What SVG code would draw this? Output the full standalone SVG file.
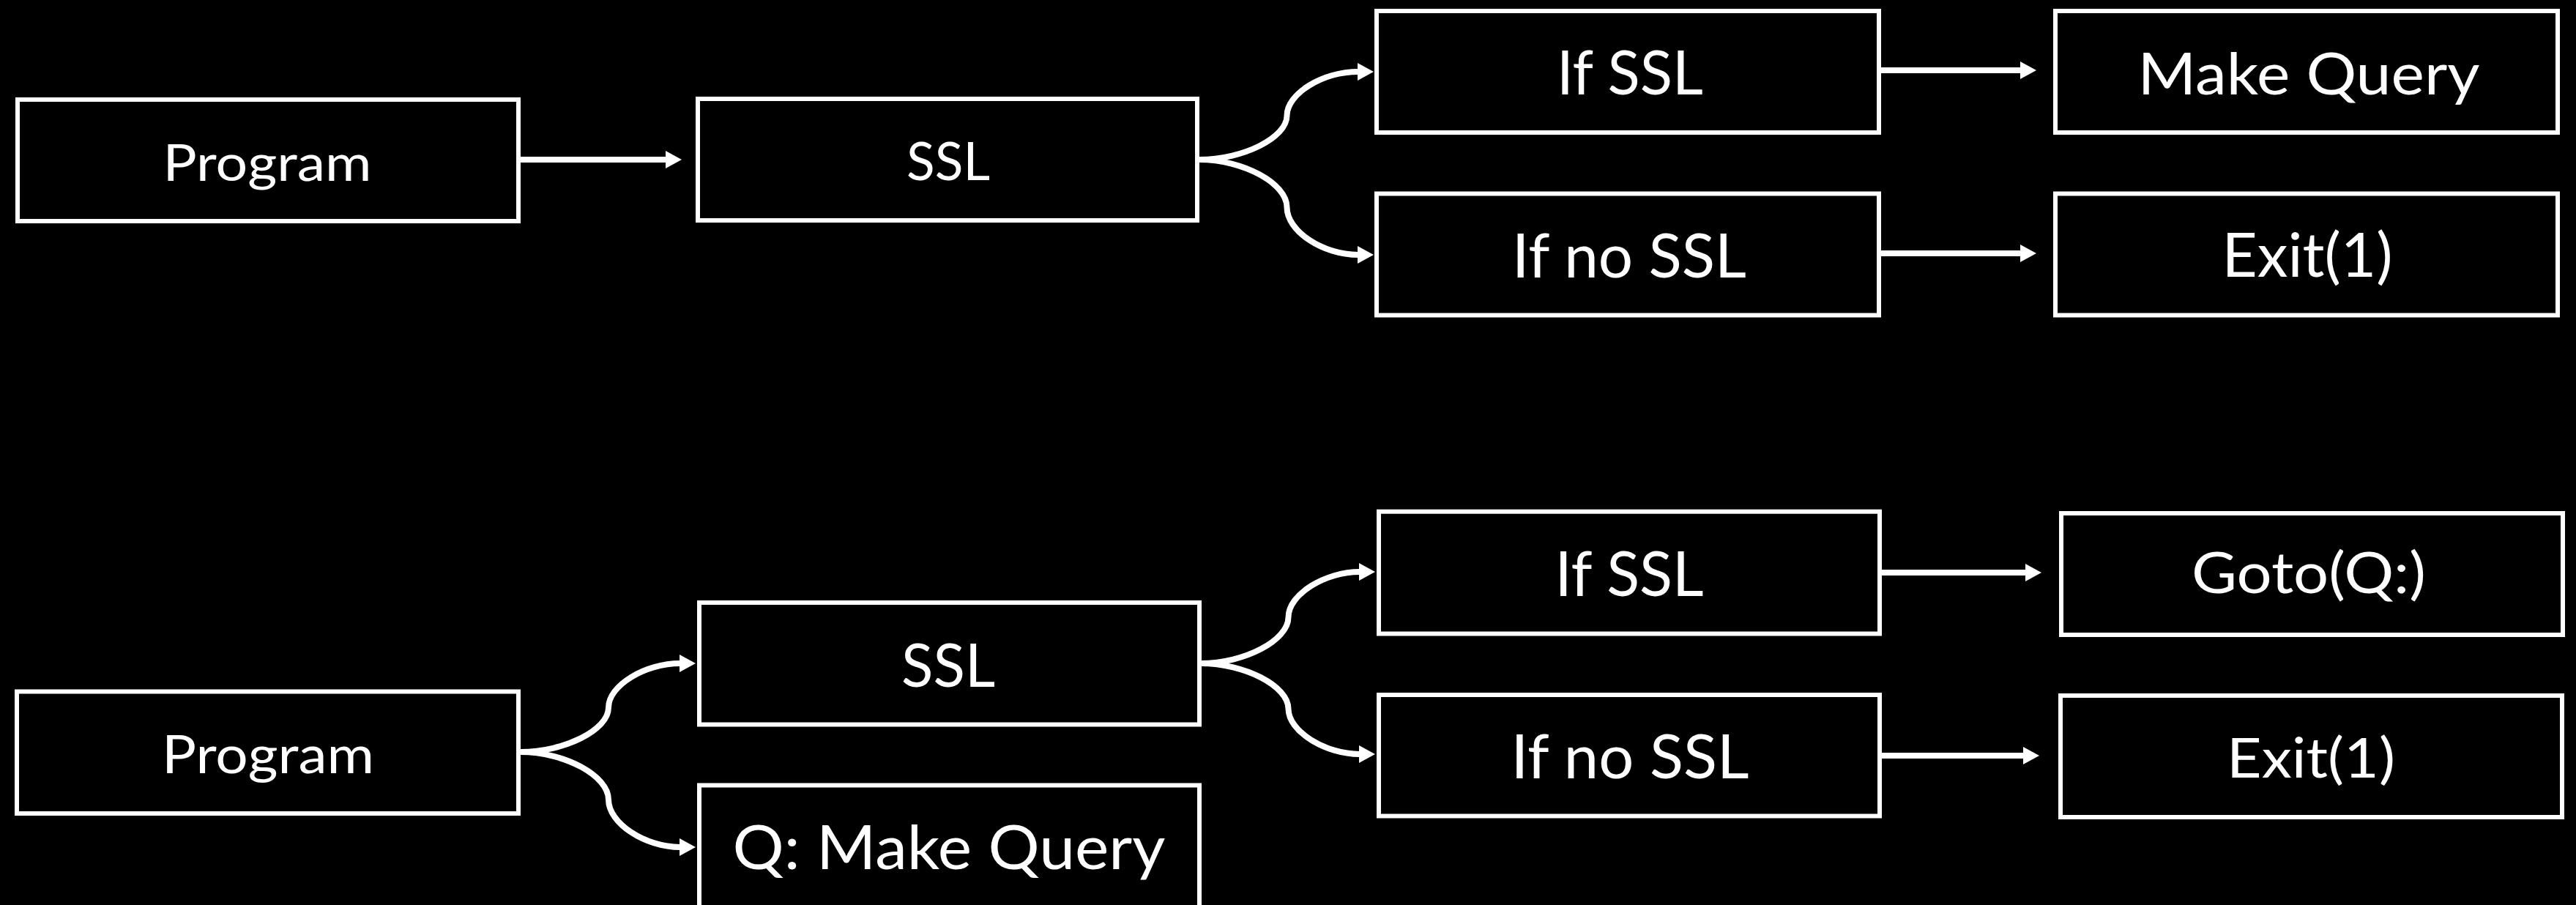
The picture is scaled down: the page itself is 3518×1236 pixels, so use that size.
<svg xmlns="http://www.w3.org/2000/svg" width="3518" height="1236" viewBox="0 0 3518 1236">
<style>
.box{fill:#000;stroke:#fff;stroke-width:6}
.lbl{fill:#fff;font-family:Lato,"Open Sans","Liberation Sans",sans-serif;text-anchor:middle}
.con{fill:none;stroke:#fff;stroke-width:8;marker-end:url(#ah)}
</style>
<defs>
<marker id="ah" viewBox="0 0 22 24" markerWidth="22" markerHeight="24" markerUnits="userSpaceOnUse" refX="1" refY="12" orient="auto">
<path d="M0,0 L22,12 L0,24 Z" fill="#fff"/>
</marker>
</defs>
<rect width="3518" height="1236" fill="#000"/>
<g id="connectors">
<path class="con" d="M711,218 H910"/>
<path class="con" d="M1638,218 C1697.75,218 1757.5,188 1757.5,158 C1757.5,128 1806,98 1855,98"/>
<path class="con" d="M1638,218 C1697.75,218 1757.5,250.5 1757.5,283 C1757.5,315.5 1806,348 1855,348"/>
<path class="con" d="M2566,96 H2760"/>
<path class="con" d="M2566,346 H2760"/>
<path class="con" d="M711,1027 C771,1027 831,997 831,966.5 C831,936 881,906 929,906"/>
<path class="con" d="M711,1027 C771,1027 831,1059.5 831,1092 C831,1124.5 881,1157 929,1157"/>
<path class="con" d="M1640,906 C1700,906 1759.5,874.5 1759.5,843 C1759.5,811.5 1810,781 1857,781"/>
<path class="con" d="M1640,906 C1700,906 1759.5,937 1759.5,968 C1759.5,999 1810,1030 1857,1030"/>
<path class="con" d="M2570,782 H2767"/>
<path class="con" d="M2570,1032 H2764"/>
</g>
<g id="program1"><rect class="box" x="24" y="136" width="684" height="166"/><text class="lbl" x="365" y="247" font-size="70" textLength="285" lengthAdjust="spacingAndGlyphs">Program</text></g>
<g id="ssl1"><rect class="box" x="953" y="135" width="682" height="166"/><text class="lbl" x="1295" y="246" font-size="72" textLength="114" lengthAdjust="spacingAndGlyphs">SSL</text></g>
<g id="ifssl1"><rect class="box" x="1880" y="15" width="686" height="166"/><text class="lbl" x="2226" y="129" font-size="84" textLength="200" lengthAdjust="spacingAndGlyphs">If SSL</text></g>
<g id="ifnossl1"><rect class="box" x="1880" y="264.5" width="686" height="166"/><text class="lbl" x="2225" y="379" font-size="84" textLength="320" lengthAdjust="spacingAndGlyphs">If no SSL</text></g>
<g id="makequery1"><rect class="box" x="2807" y="15" width="686" height="166"/><text class="lbl" x="3153" y="129" font-size="80" textLength="467" lengthAdjust="spacingAndGlyphs">Make Query</text></g>
<g id="exit1"><rect class="box" x="2807" y="264.5" width="686" height="166"/><text class="lbl" x="3151" y="378" font-size="84" textLength="233" lengthAdjust="spacingAndGlyphs">Exit(1)</text></g>
<g id="program2"><rect class="box" x="23" y="944.5" width="685" height="166.5"/><text class="lbl" x="366" y="1056" font-size="72" textLength="290" lengthAdjust="spacingAndGlyphs">Program</text></g>
<g id="ssl2"><rect class="box" x="955" y="823" width="683" height="166.5"/><text class="lbl" x="1295" y="938" font-size="81" textLength="128" lengthAdjust="spacingAndGlyphs">SSL</text></g>
<g id="qmakequery"><rect class="box" x="955" y="1072.5" width="683" height="166.5"/><text class="lbl" x="1296" y="1187" font-size="84" textLength="591" lengthAdjust="spacingAndGlyphs">Q: Make Query</text></g>
<g id="ifssl2"><rect class="box" x="1883" y="698.7" width="684" height="166.8"/><text class="lbl" x="2225" y="814" font-size="85" textLength="203" lengthAdjust="spacingAndGlyphs">If SSL</text></g>
<g id="ifnossl2"><rect class="box" x="1883" y="949" width="684" height="165.5"/><text class="lbl" x="2226" y="1063" font-size="84" textLength="325" lengthAdjust="spacingAndGlyphs">If no SSL</text></g>
<g id="goto"><rect class="box" x="2815" y="701" width="685" height="166"/><text class="lbl" x="3153" y="810" font-size="77" textLength="320" lengthAdjust="spacingAndGlyphs">Goto(Q:)</text></g>
<g id="exit2"><rect class="box" x="2814" y="950" width="685" height="166"/><text class="lbl" x="3156" y="1062" font-size="75" textLength="230" lengthAdjust="spacingAndGlyphs">Exit(1)</text></g>
</svg>
